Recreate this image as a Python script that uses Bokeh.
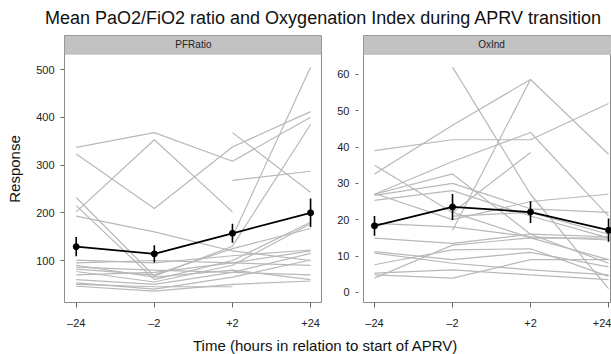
import numpy as np
from bokeh.plotting import figure
from bokeh.models import Range1d, FixedTicker, BoxAnnotation, Label
from bokeh.layouts import column, row
from bokeh.embed import file_html
from bokeh.resources import INLINE

nan = float("nan")

# ---- data ----
time_labels = ["\u201324", "\u20132", "+2", "+24"]
x_pos = [1, 2, 3, 4]

pf_lines = [
    [337, 368, 308, 400],
    [323, 209, 338, 412],
    [202, 353, 202, nan],
    [nan, nan, 368, 243],
    [nan, nan, 268, 287],
    [nan, nan, 150, 505],
    [232, 67, 130, 385],
    [193, 160, 120, 100],
    [215, 60, 100, 180],
    [101, 95, 110, 122],
    [86, 80, 75, 70],
    [82, 70, 125, 167],
    [77, 55, 90, 177],
    [60, 50, 75, 115],
    [53, 40, 65, 101],
    [46, 36, 50, 57],
    [90, 65, 80, 60],
    [70, 75, 95, 120],
    [50, 45, 45, nan],
    [95, 100, 95, 90],
]
pf_mean = [129, 114, 157, 200]
pf_err = [20, 18, 20, 30]
pf_ticks = [100, 200, 300, 400, 500]

ox_lines = [
    [nan, 62, 27, 1],
    [32.6, 46, 58.6, 38],
    [nan, 17, 58.6, nan],
    [39, 42, 42, 52],
    [27, 36, 44, 21],
    [27, 32.6, 16, 8],
    [nan, 22, 38.5, nan],
    [35, 22, 15, 9],
    [27.2, 20, 25, 27],
    [26.7, 30, 23, 22],
    [25.3, 28, 21, 15],
    [19, 18, 15.3, 14.4],
    [14.9, 13.5, 16, 15.3],
    [11.2, 9, 11, 7],
    [10.8, 8, 6.2, 4.8],
    [7.6, 11.7, 12, 4.4],
    [5.3, 6.2, 4.8, 3.5],
    [4.8, 3.9, 9, 9],
    [3.9, 13, 15, 14.9],
    [nan, 21, 22, 16],
]
ox_mean = [18.3, 23.5, 22.1, 17.1]
ox_err = [2.7, 3.6, 3.0, 3.2]
ox_ticks = [0, 10, 20, 30, 40, 50, 60]

FONT = "Liberation Sans"


def make_panel(name, lines, mean, err, yticks, yr, strip_bottom, xr, width,
               bl, br, ylabel=None, tick_in=0, tick_out=4):
    p = figure(width=width, height=297, x_range=Range1d(*xr), y_range=Range1d(*yr),
               toolbar_location=None, output_backend="svg",
               min_border_left=bl, min_border_right=br, min_border_top=1,
               min_border_bottom=28)
    p.xgrid.visible = False
    p.ygrid.visible = False
    p.outline_line_color = "#8c8c8c"
    p.outline_line_width = 1
    p.background_fill_color = "white"
    p.border_fill_color = "white"

    strip = BoxAnnotation(bottom=strip_bottom, fill_color="#c2c2c2", fill_alpha=1,
                          line_color="#8c8c8c", line_width=1)
    p.add_layout(strip)
    p.add_layout(Label(x=2.5, y=(strip_bottom + yr[1]) / 2, text=name,
                       text_align="center", text_baseline="middle",
                       text_font=FONT, text_font_size="10px", text_color="#222222"))

    xs = [x_pos for _ in lines]
    p.multi_line(xs=xs, ys=[list(l) for l in lines], line_color="#b8b8b8", line_width=1.2)

    lo = [m - e for m, e in zip(mean, err)]
    hi = [m + e for m, e in zip(mean, err)]
    p.line(x_pos, mean, line_color="black", line_width=1.8)
    p.segment(x0=x_pos, y0=lo, x1=x_pos, y1=hi, line_color="black", line_width=1.6)
    p.scatter(x_pos, mean, size=6, color="black")

    xa = p.xaxis[0]
    xa.ticker = FixedTicker(ticks=x_pos)
    xa.major_label_overrides = {x: t for x, t in zip(x_pos, time_labels)}
    xa.axis_line_color = None
    xa.minor_tick_line_color = None
    xa.major_tick_in = 0
    xa.major_tick_out = 5
    xa.major_tick_line_color = "#666666"
    xa.major_label_text_font = FONT
    xa.major_label_text_font_size = "11px"
    xa.major_label_text_color = "#222222"
    xa.major_label_standoff = 9

    ya = p.yaxis[0]
    ya.ticker = FixedTicker(ticks=yticks)
    ya.axis_line_color = None
    ya.minor_tick_line_color = None
    ya.major_tick_in = tick_in
    ya.major_tick_out = tick_out
    ya.major_tick_line_color = "#666666"
    ya.major_label_text_font = FONT
    ya.major_label_text_font_size = "11px"
    ya.major_label_text_color = "#222222"
    ya.major_label_standoff = 6
    if ylabel:
        ya.axis_label = ylabel
        ya.axis_label_text_font = FONT
        ya.axis_label_text_font_size = "15px"
        ya.axis_label_text_font_style = "normal"
        ya.axis_label_text_color = "#111111"
        ya.axis_label_standoff = 10
    return p


p1 = make_panel("PFRatio", pf_lines, pf_mean, pf_err, pf_ticks, (12, 571.5), 532,
                (0.85, 4.14), 324, 64, 3, ylabel="Response")
p2 = make_panel("OxInd", ox_lines, ox_mean, ox_err, ox_ticks, (-2.8, 70.7), 65.5,
                (0.859, 4.038), 287, 39, 0, tick_in=-5, tick_out=8)


def text_fig(height, y0, y1, txt, x, y, size):
    f = figure(width=611, height=height, x_range=Range1d(0, 611), y_range=Range1d(y1, y0),
               toolbar_location=None, output_backend="svg", min_border=0,
               x_axis_location=None, y_axis_location=None)
    f.xgrid.visible = False
    f.ygrid.visible = False
    f.outline_line_color = None
    f.add_layout(Label(x=x, y=y, text=txt, text_align="center", text_baseline="middle",
                       text_font=FONT, text_font_size=size, text_color="#111111"))
    return f


title_fig = text_fig(34, 0, 34, "Mean PaO2/FiO2 ratio and Oxygenation Index during APRV transition",
                     323, 17, "18px")
xlab_fig = text_fig(23, 331, 354, "Time (hours in relation to start of APRV)", 325, 345, "15px")

layout = column(title_fig, row(p1, p2), xlab_fig)

open("out.html", "w").write(file_html(layout, INLINE))
